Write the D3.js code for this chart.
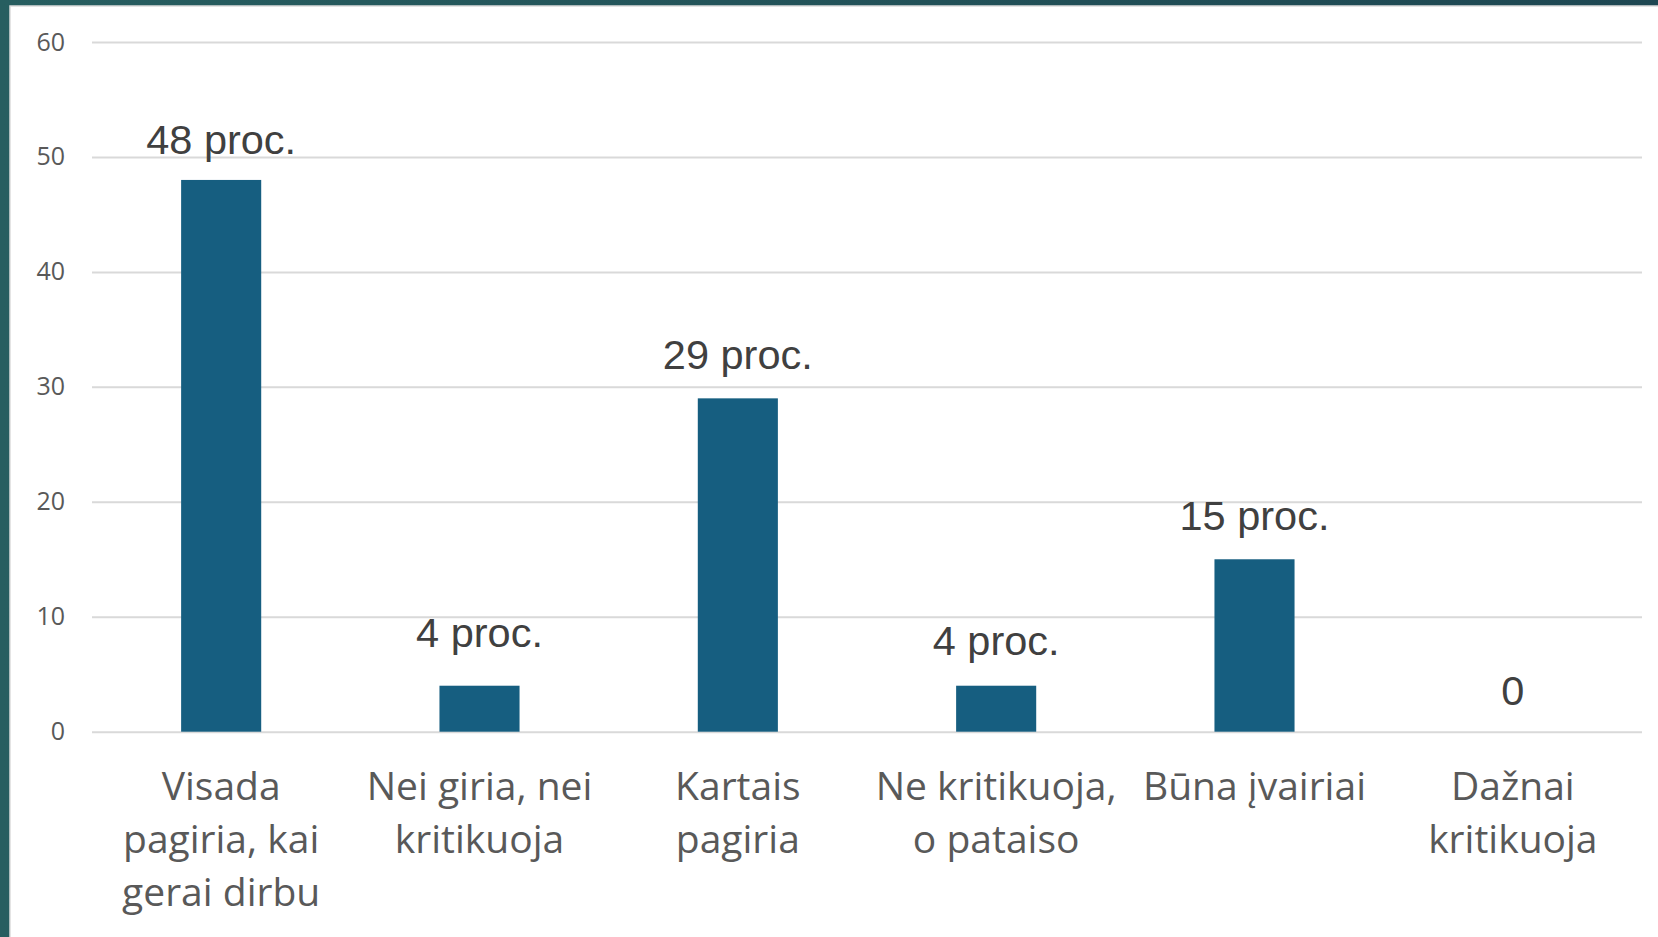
<!DOCTYPE html>
<html>
<head>
<meta charset="utf-8">
<script src="https://cdn.jsdelivr.net/npm/d3@7"></script>
<style>
  html, body { margin: 0; padding: 0; background: #21525a; overflow: hidden; }
  svg { display: block; }
</style>
</head>
<body>
<div id="chart"></div>
<script>
// chart values
var categories = [
    "Visada\npagiria, kai\ngerai dirbu",
    "Nei giria, nei\nkritikuoja",
    "Kartais\npagiria",
    "Ne kritikuoja,\no pataiso",
    "Būna įvairiai",
    "Dažnai\nkritikuoja"
];
var values = [48, 4, 29, 4, 15, 0];
var valueLabels = ["48 proc.", "4 proc.", "29 proc.", "4 proc.", "15 proc.", "0"];
var yTicks = [0, 10, 20, 30, 40, 50, 60];

// labels were nudged by hand in the original
var labelLift = [26, 39, 29, 31, 29, 27];

var W = 1658, H = 937;
var plot = {left: 92, right: 1642, top: 42, bottom: 731.7};

function draw(){
    var svg = d3.select("#chart").append("svg")
        .attr("width", W)
        .attr("height", H);

    // teal frame behind the white panel
    var defs = svg.append("defs");
    var grad = defs.append("linearGradient").attr("id", "frame");
    grad.append("stop").attr("offset", "0").attr("stop-color", "#275e60");
    grad.append("stop").attr("offset", "1").attr("stop-color", "#1e4752");
    svg.append("rect")
        .attr("width", W).attr("height", H)
        .attr("fill", "url(#frame)");
    svg.append("rect")
        .attr("x", 10).attr("y", 6)
        .attr("width", W).attr("height", H)
        .attr("fill", "#ffffff")
        .attr("stroke", "#dcdcdc")
        .attr("stroke-width", 1.5);

    var x = d3.scaleBand()
        .domain(categories)
        .range([plot.left, plot.right])
        .padding(0);
    var y = d3.scaleLinear()
        .domain([0, 60])
        .range([plot.bottom, plot.top]);

    // gridlines + y labels
    var yAxis = d3.axisLeft(y)
        .tickValues(yTicks)
        .tickSize(-(plot.right - plot.left))
        .tickPadding(27);
    var gy = svg.append("g")
        .attr("transform", "translate(" + plot.left + ",0)")
        .call(yAxis);
    gy.select(".domain").remove();
    gy.selectAll(".tick line")
        .attr("stroke", "#d9d9d9")
        .attr("stroke-width", 2);
    gy.selectAll(".tick text")
        .attr("fill", "#595959")
        .style("font-family", "'Open Sans', sans-serif")
        .style("font-size", "25px");

    // bars
    var barW = x.bandwidth() * 0.31;
    svg.append("g").selectAll("rect")
        .data(values)
        .enter()
        .append("rect")
        .attr("x", function(d, i){ return x(categories[i]) + x.bandwidth()/2 - barW/2; })
        .attr("y", function(d){ return y(d); })
        .attr("width", barW)
        .attr("height", function(d){ return y(0) - y(d); })
        .attr("fill", "#165e80");

    // value labels
    svg.append("g").selectAll("text")
        .data(values)
        .enter()
        .append("text")
        .attr("x", function(d, i){ return x(categories[i]) + x.bandwidth()/2; })
        .attr("y", function(d, i){ return y(d) - labelLift[i]; })
        .attr("text-anchor", "middle")
        .attr("fill", "#404040")
        .style("font-family", "'Liberation Sans', Arial, sans-serif")
        .style("font-size", "41.5px")
        .text(function(d, i){ return valueLabels[i]; });

    // category labels, one tspan per line
    var cats = svg.append("g").selectAll("text")
        .data(categories)
        .enter()
        .append("text")
        .attr("text-anchor", "middle")
        .attr("fill", "#595959")
        .style("font-family", "'Open Sans', sans-serif")
        .style("font-size", "39px");
    cats.selectAll("tspan")
        .data(function(d){
            var cx = x(d) + x.bandwidth()/2;
            return d.split("\n").map(function(s){ return {t: s, cx: cx}; });
        })
        .enter()
        .append("tspan")
        .attr("x", function(d){ return d.cx; })
        .attr("y", function(d, i){ return 800 + i*53; })
        .text(function(d){ return d.t; });
}

draw();
</script>
</body>
</html>
